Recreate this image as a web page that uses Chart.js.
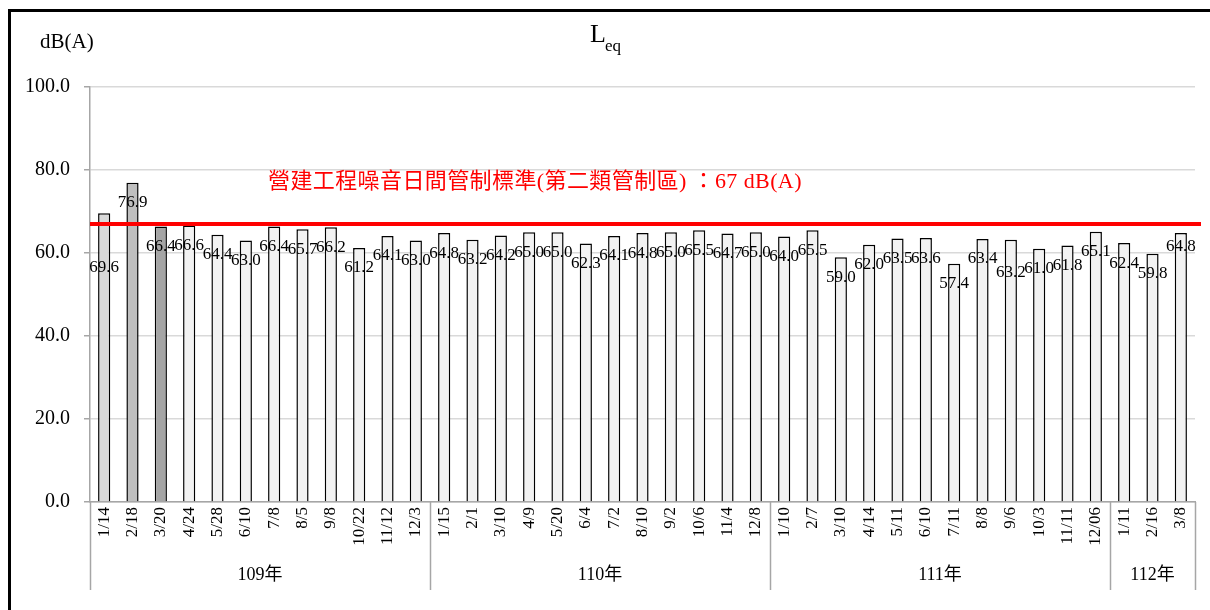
<!DOCTYPE html>
<html>
<head>
<meta charset="utf-8">
<script src="https://cdn.jsdelivr.net/npm/chart.js@4/dist/chart.umd.min.js"></script>
<style>
  html, body { margin: 0; padding: 0; background: #fff; }
  #wrap { position: relative; width: 1210px; height: 610px; overflow: hidden; }
  #frame { position: absolute; left: 8px; top: 9px; width: 1300px; height: 700px;
           border-left: 3px solid #000; border-top: 3px solid #000; pointer-events: none; }
  canvas { position: absolute; left: 0; top: 0; }
</style>
</head>
<body>
<div id="wrap">
  <canvas id="c" width="1210" height="610"></canvas>
  <div id="frame"></div>
</div>
<script>
// Survey dates (month/day) and measured Leq in dB(A)
const categories = [
  '1/14','2/18','3/20','4/24','5/28','6/10','7/8','8/5','9/8','10/22','11/12','12/3',
  '1/15','2/1','3/10','4/9','5/20','6/4','7/2','8/10','9/2','10/6','11/4','12/8',
  '1/10','2/7','3/10','4/14','5/11','6/10','7/11','8/8','9/6','10/3','11/11','12/06',
  '1/11','2/16','3/8'
];
const leqValues = [
  69.6, 76.9, 66.4, 66.6, 64.4, 63.0, 66.4, 65.7, 66.2, 61.2, 64.1, 63.0,
  64.8, 63.2, 64.2, 65.0, 65.0, 62.3, 64.1, 64.8, 65.0, 65.5, 64.7, 65.0,
  64.0, 65.5, 59.0, 62.0, 63.5, 63.6, 57.4, 63.4, 63.2, 61.0, 61.8, 65.1,
  62.4, 59.8, 64.8
];
// ROC years and how many surveys fall in each
const yearNames = ['109年', '110年', '111年', '112年'];
const yearSizes = [12, 12, 12, 3];
// Daytime construction noise limit (class 2 area)
const limitValue = 67;
const limitText = '營建工程噪音日間管制標準(第二類管制區) ：67 dB(A)';
const yMin = 0, yMax = 100, yStep = 20;

// ---- styling ----
const SERIF = "'Liberation Serif', 'Times New Roman', 'Noto Sans CJK TC', serif";
const CJK_SERIF = "'Liberation Serif', 'Noto Sans CJK TC', serif";
const specialFills = { 0: '#d9d9d9', 1: '#bfbfbf', 2: '#a5a5a5' };
const defaultFill = '#f2f2f2';
const labelDrop = 20;                       // value label centre below bar top
const labelDropOverride = { 0: 54, 32: 33, 38: 13 };

const valueLabels = {
  id: 'valueLabels',
  afterDatasetsDraw(chart) {
    const ctx = chart.ctx;
    const meta = chart.getDatasetMeta(0);
    ctx.save();
    ctx.font = "17px " + SERIF;
    ctx.fillStyle = '#000';
    ctx.textAlign = 'center';
    ctx.textBaseline = 'middle';
    meta.data.forEach((bar, i) => {
      const drop = (i in labelDropOverride) ? labelDropOverride[i] : labelDrop;
      ctx.fillText(leqValues[i].toFixed(1), bar.x, bar.y + drop);
    });
    ctx.restore();
  }
};

const limitLine = {
  id: 'limitLine',
  afterDatasetsDraw(chart) {
    const { ctx, chartArea, scales: { y } } = chart;
    const py = y.getPixelForValue(limitValue);
    ctx.save();
    ctx.strokeStyle = '#ff0000';
    ctx.lineWidth = 4;
    ctx.beginPath();
    ctx.moveTo(chartArea.left, py);
    ctx.lineTo(chartArea.right + 6, py);
    ctx.stroke();
    ctx.font = "22px " + CJK_SERIF;
    ctx.fillStyle = '#ff0000';
    ctx.textAlign = 'left';
    ctx.textBaseline = 'middle';
    if ('letterSpacing' in ctx) ctx.letterSpacing = '0.4px';
    ctx.fillText(limitText, chartArea.left + 178, py - 42);
    ctx.restore();
  }
};

const headings = {
  id: 'headings',
  afterDraw(chart) {
    const ctx = chart.ctx;
    ctx.save();
    ctx.fillStyle = '#000';
    ctx.textBaseline = 'alphabetic';
    ctx.textAlign = 'left';
    ctx.font = "26px " + SERIF;
    ctx.fillText('L', 590, 42);
    const w = ctx.measureText('L').width;
    ctx.font = "17px " + SERIF;
    ctx.fillText('eq', 590 + w - 1, 51);
    ctx.font = "21px " + SERIF;
    ctx.fillText('dB(A)', 40, 48);
    ctx.restore();
  }
};

const yearGroups = {
  id: 'yearGroups',
  afterDraw(chart) {
    const { ctx, chartArea, scales: { x } } = chart;
    const n = categories.length;
    const edge = (i) => {
      if (i <= 0) return chartArea.left;
      if (i >= n) return chartArea.right;
      return (x.getPixelForTick(i - 1) + x.getPixelForTick(i)) / 2;
    };
    ctx.save();
    ctx.strokeStyle = '#a6a6a6';
    ctx.lineWidth = 1.5;
    ctx.fillStyle = '#000';
    ctx.font = "18px " + CJK_SERIF;
    ctx.textAlign = 'center';
    ctx.textBaseline = 'middle';
    let start = 0;
    const bounds = [0];
    yearSizes.forEach(s => { start += s; bounds.push(start); });
    bounds.forEach(b => {
      const px = Math.round(edge(b)) + 0.5;
      ctx.beginPath();
      ctx.moveTo(px, chartArea.bottom);
      ctx.lineTo(px, 590);
      ctx.stroke();
    });
    yearNames.forEach((name, k) => {
      const cx = (edge(bounds[k]) + edge(bounds[k + 1])) / 2;
      ctx.fillText(name, cx, 575);
    });
    ctx.restore();
  }
};

new Chart(document.getElementById('c'), {
  type: 'bar',
  data: {
    labels: categories,
    datasets: [{
      data: leqValues,
      backgroundColor: leqValues.map((v, i) => specialFills[i] || defaultFill),
      borderColor: '#000',
      borderWidth: 1.5,
      barPercentage: 0.43,
      categoryPercentage: 1.0
    }]
  },
  options: {
    responsive: false,
    animation: false,
    devicePixelRatio: 1,
    layout: { padding: { top: 87, right: 15, left: 0, bottom: 0 } },
    plugins: {
      legend: { display: false },
      title: { display: false },
      tooltip: { enabled: false }
    },
    scales: {
      x: {
        grid: { display: false, drawTicks: false },
        border: { display: true, color: '#a6a6a6', width: 1.5 },
        ticks: {
          autoSkip: false,
          maxRotation: 90,
          minRotation: 90,
          padding: 5,
          color: '#000',
          font: { family: SERIF, size: 17 }
        },
        afterFit(scale) { scale.height = 108; }
      },
      y: {
        min: yMin,
        max: yMax,
        grid: { color: '#d9d9d9', lineWidth: 1.5, tickLength: 6, tickColor: '#a6a6a6' },
        border: { display: true, color: '#a6a6a6', width: 1.5 },
        ticks: {
          stepSize: yStep,
          padding: 14,
          color: '#000',
          font: { family: SERIF, size: 20 },
          callback: (v) => Number(v).toFixed(1)
        },
        afterFit(scale) { scale.width = 90; }
      }
    }
  },
  plugins: [limitLine, valueLabels, headings, yearGroups]
});
</script>
</body>
</html>
